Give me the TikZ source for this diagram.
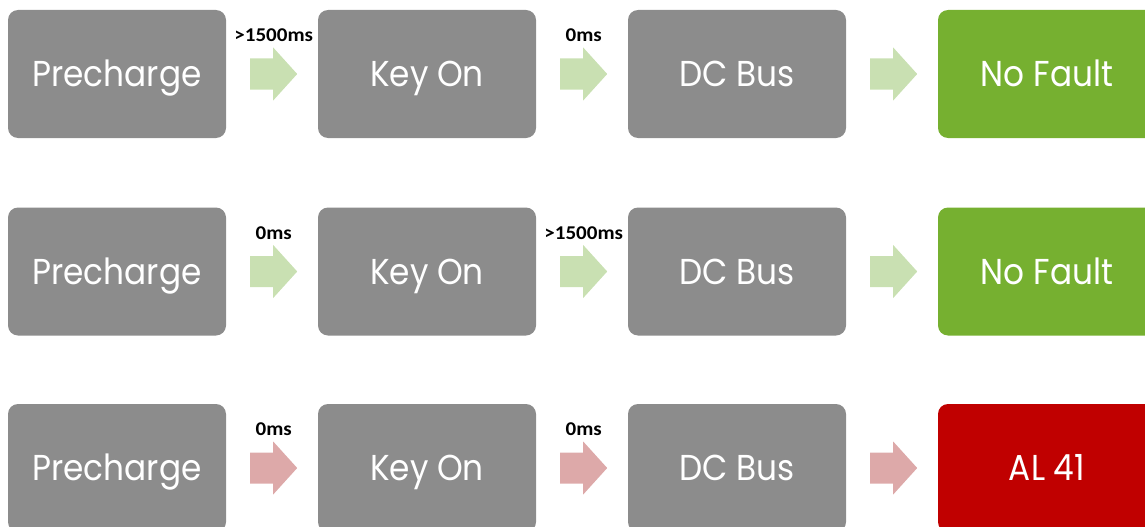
\documentclass[tikz,border=0pt]{standalone}
\usepackage{fontspec}
\setmainfont{Poppins}[FakeStretch=0.91]
\newfontfamily\labelfont{Carlito}[FakeStretch=1.08]
\usetikzlibrary{calc}
\definecolor{boxgray}{HTML}{8C8C8C}
\definecolor{okgreen}{HTML}{76B030}
\definecolor{faultred}{HTML}{C00000}
\definecolor{arrowgreen}{HTML}{C9E0B2}
\definecolor{arrowred}{HTML}{DDA9A9}
\tikzset{
  stagebox/.style={fill=boxgray, rounded corners=10pt, minimum width=218pt, minimum height=128pt,
    inner sep=0pt, text=white, text height=25.5pt, text depth=0pt,
    font=\fontsize{36}{40}\selectfont},
  okbox/.style={stagebox, fill=okgreen},
  faultbox/.style={stagebox, fill=faultred},
  delaylabel/.style={font=\labelfont\bfseries\fontsize{19.5}{22}\selectfont, text=black, inner sep=0pt}
}
% block arrow drawn to the right of a box, with an optional delay label above it
\newcommand{\blockarrow}[3]{%
  \fill[#2, shift={($(#1.east)+(24pt,0)$)}]
    (0,-15.5) -- (23,-15.5) -- (23,-26.5) -- (47,0) -- (23,26.5) -- (23,15.5) -- (0,15.5) -- cycle;
  \node[delaylabel] (#1-lbl) at ($(#1.east)+(47.5pt,38.5pt)$) {#3};
}
\begin{document}
\begin{tikzpicture}[x=1pt, y=-1pt]
\useasboundingbox (0,0) rectangle (1145,527);
\clip (0,0) rectangle (1145,527);
% row 1
\node[stagebox] (p1) at (117,74) {Precharge};
\node[stagebox] (k1) at (427,74) {Key On};
\node[stagebox] (d1) at (737,74) {DC Bus};
\node[okbox]    (r1) at (1047,74) {No Fault};
\blockarrow{p1}{arrowgreen}{>1500ms}
\blockarrow{k1}{arrowgreen}{0ms}
\blockarrow{d1}{arrowgreen}{}
% row 2
\node[stagebox] (p2) at (117,271.5) {Precharge};
\node[stagebox] (k2) at (427,271.5) {Key On};
\node[stagebox] (d2) at (737,271.5) {DC Bus};
\node[okbox]    (r2) at (1047,271.5) {No Fault};
\blockarrow{p2}{arrowgreen}{0ms}
\blockarrow{k2}{arrowgreen}{>1500ms}
\blockarrow{d2}{arrowgreen}{}
% row 3
\node[stagebox] (p3) at (117,468) {Precharge};
\node[stagebox] (k3) at (427,468) {Key On};
\node[stagebox] (d3) at (737,468) {DC Bus};
\node[faultbox] (r3) at (1047,468) {AL 41};
\blockarrow{p3}{arrowred}{0ms}
\blockarrow{k3}{arrowred}{0ms}
\blockarrow{d3}{arrowred}{}
\end{tikzpicture}
\end{document}
